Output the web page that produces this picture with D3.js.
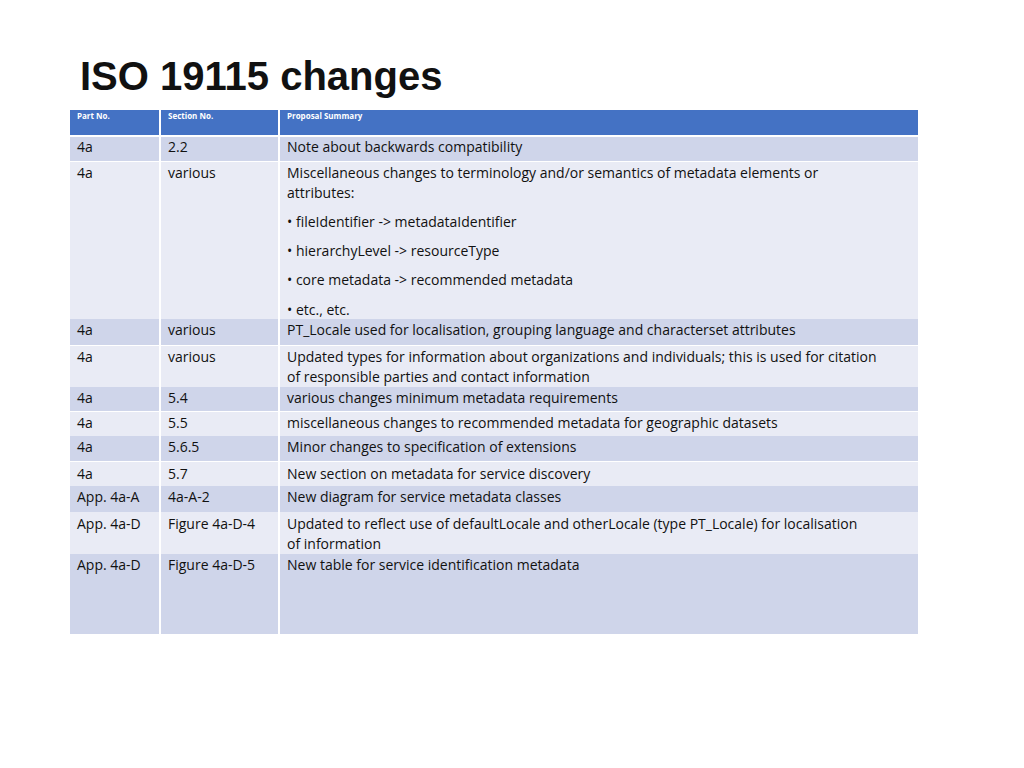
<!DOCTYPE html>
<html><head><meta charset="utf-8">
<script src="https://cdn.jsdelivr.net/npm/d3@7"></script>
<style>body{margin:0;background:#fff}</style></head>
<body><svg id="c" width="1024" height="768"></svg>
<script>
const headers = ["Part No.", "Section No.", "Proposal Summary"];
const parts = ["4a","4a","4a","4a","4a","4a","4a","4a","App. 4a-A","App. 4a-D","App. 4a-D"];
const sections = ["2.2","various","various","various","5.4","5.5","5.6.5","5.7","4a-A-2","Figure 4a-D-4","Figure 4a-D-5"];
const summaries = [
 ["Note about backwards compatibility"],
 ["Miscellaneous changes to terminology and/or semantics of metadata elements or","attributes:","•  fileIdentifier ->  metadataIdentifier","•  hierarchyLevel -> resourceType","•  core metadata -> recommended metadata","•  etc., etc."],
 ["PT_Locale used for localisation, grouping language and characterset attributes"],
 ["Updated types for information about organizations and individuals; this is used for citation","of responsible parties and contact information"],
 ["various changes minimum metadata requirements"],
 ["miscellaneous changes to recommended metadata for geographic datasets"],
 ["Minor changes to specification of extensions"],
 ["New section on metadata for service discovery"],
 ["New diagram for service metadata classes"],
 ["Updated to reflect use of defaultLocale and otherLocale (type PT_Locale) for localisation","of information"],
 ["New table for service identification metadata"]
];
// layout: row boundaries
const rowTops = [137,162,319,346,387,412,436,462,486,512,554];
const rowBottoms = [161,319,345,387,411,436,461,486,512,554,634];
const lineOffsets = [[10],[11,31,60,89,118,148],[11],[11,31],[11],[11],[11],[12],[11],[12,32],[11]];

const svg = d3.select("#c");
svg.append("text").attr("x",80).attr("y",90).attr("font-family","Liberation Sans, Arial")
  .attr("font-weight","bold").attr("font-size",40).attr("fill","#111").text("ISO 19115 changes");
const colX = [70,161,280], colR=[159,278,918];
const g = svg.append("g");
g.selectAll("rect.h").data(headers).join("rect").attr("x",(d,i)=>colX[i]).attr("y",110)
 .attr("width",(d,i)=>colR[i]-colX[i]).attr("height",25).attr("fill","#4472c4");
g.selectAll("text.h").data(headers).join("text").attr("x",(d,i)=>colX[i]+7).attr("y",119)
 .attr("font-family","Open Sans, sans-serif").attr("font-weight","bold").attr("font-size",8).attr("fill","#fff").text(d=>d);
const rows = parts.map((p,i)=>({cells:[[p],[sections[i]],summaries[i]],i}));
rows.forEach(r=>{
  const i=r.i, fill = i%2===0?"#cfd5ea":"#e9ebf5";
  r.cells.forEach((lines,c)=>{
    g.append("rect").attr("x",colX[c]).attr("y",rowTops[i]).attr("width",colR[c]-colX[c])
     .attr("height",rowBottoms[i]-rowTops[i]).attr("fill",fill);
    lines.forEach((t,k)=>{
      g.append("text").attr("x",colX[c]+7).attr("y",rowTops[i]+lineOffsets[i][k]).attr("dy","0.35em")
       .attr("font-family","Open Sans, sans-serif").attr("font-size",14).attr("fill","#111").text(t);
    });
  });
});
</script></body></html>
